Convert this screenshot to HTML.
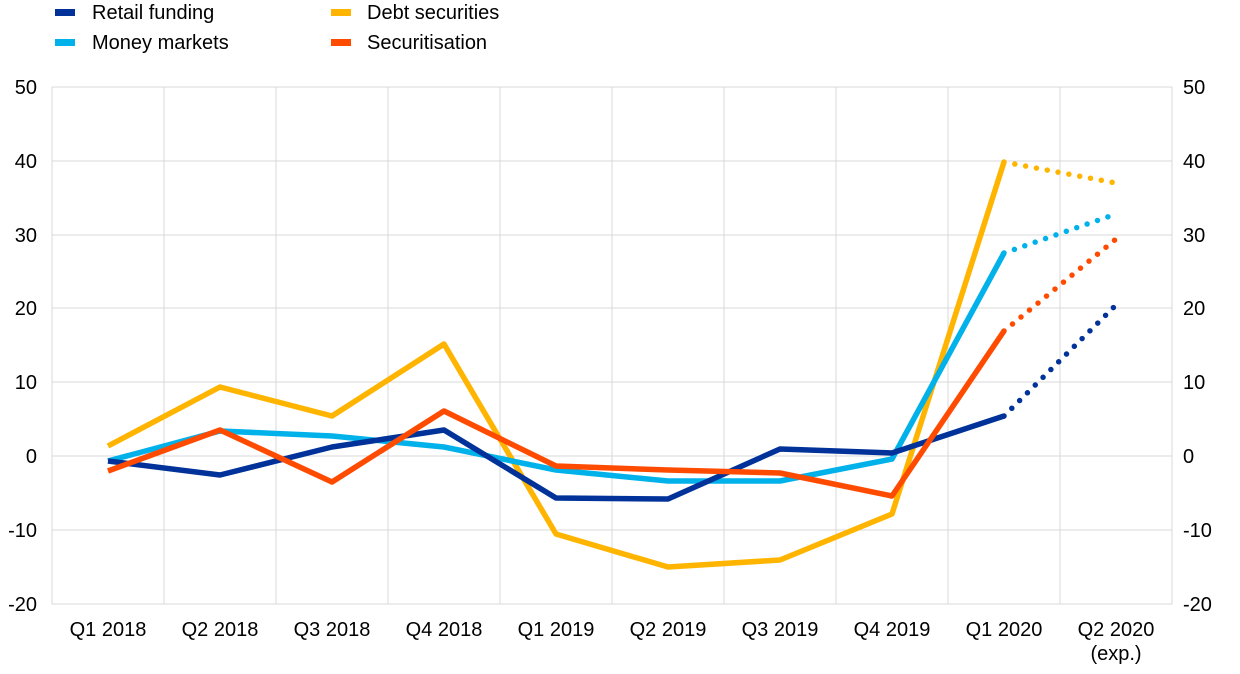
<!DOCTYPE html>
<html><head><meta charset="utf-8"><style>
body{margin:0;background:#fff}
svg text{font-family:"Liberation Sans",Arial,sans-serif;font-size:20px;fill:#000}
</style></head><body>
<svg width="1240" height="669" viewBox="0 0 1240 669" xmlns="http://www.w3.org/2000/svg">
<g stroke="#d9d9d9" stroke-width="1">
<line x1="52" y1="87" x2="1172" y2="87"/><line x1="52" y1="161" x2="1172" y2="161"/>
<line x1="52" y1="235" x2="1172" y2="235"/><line x1="52" y1="308" x2="1172" y2="308"/>
<line x1="52" y1="382" x2="1172" y2="382"/><line x1="52" y1="456" x2="1172" y2="456"/>
<line x1="52" y1="530" x2="1172" y2="530"/><line x1="52" y1="604" x2="1172" y2="604"/>
<line x1="52" y1="87" x2="52" y2="604"/><line x1="164" y1="87" x2="164" y2="604"/>
<line x1="276" y1="87" x2="276" y2="604"/><line x1="388" y1="87" x2="388" y2="604"/>
<line x1="500" y1="87" x2="500" y2="604"/><line x1="612" y1="87" x2="612" y2="604"/>
<line x1="724" y1="87" x2="724" y2="604"/><line x1="836" y1="87" x2="836" y2="604"/>
<line x1="948" y1="87" x2="948" y2="604"/><line x1="1060" y1="87" x2="1060" y2="604"/>
<line x1="1172" y1="87" x2="1172" y2="604"/>
</g>
<g text-anchor="end">
<text x="37" y="94">50</text><text x="37" y="168">40</text><text x="37" y="242">30</text>
<text x="37" y="315">20</text><text x="37" y="389">10</text><text x="37" y="463">0</text>
<text x="37" y="537">-10</text><text x="37" y="611">-20</text>
</g>
<g>
<text x="1183" y="94">50</text><text x="1183" y="168">40</text><text x="1183" y="242">30</text>
<text x="1183" y="315">20</text><text x="1183" y="389">10</text><text x="1183" y="463">0</text>
<text x="1183" y="537">-10</text><text x="1183" y="611">-20</text>
</g>
<g text-anchor="middle">
<text x="108" y="636">Q1 2018</text><text x="220" y="636">Q2 2018</text><text x="332" y="636">Q3 2018</text>
<text x="444" y="636">Q4 2018</text><text x="556" y="636">Q1 2019</text><text x="668" y="636">Q2 2019</text>
<text x="780" y="636">Q3 2019</text><text x="892" y="636">Q4 2019</text><text x="1004" y="636">Q1 2020</text>
<text x="1116" y="636">Q2 2020</text><text x="1116" y="660">(exp.)</text>
</g>
<g fill="none" stroke-width="5.5" stroke-linejoin="round">
<polyline stroke="#ffb400" points="108,446 220,387 332,416 444,344 556,534 668,567 780,560 892,514 1004,162"/>
<polyline stroke="#00b1ea" points="108,461 220,431 332,436 444,447 556,470 668,481 780,481 892,459 1004,253"/>
<polyline stroke="#003299" points="108,461 220,475 332,447 444,430 556,498 668,499 780,449 892,453 1004,416"/>
<polyline stroke="#ff4b00" points="108,471 220,430 332,482 444,411 556,466 668,470 780,473 892,496 1004,331"/>
</g>
<g fill="none" stroke-width="5.5" stroke-linecap="round" stroke-dasharray="0 11">
<line stroke="#ffb400" x1="1004" y1="162" x2="1116" y2="183"/>
<line stroke="#00b1ea" x1="1004" y1="253" x2="1116" y2="214"/>
<line stroke="#ff4b00" x1="1004" y1="331" x2="1116" y2="239"/>
<line stroke="#003299" x1="1004" y1="416" x2="1116" y2="305"/>
</g>
<rect x="55" y="9" width="20" height="7" fill="#003299"/><text x="92" y="19">Retail funding</text>
<rect x="55" y="39" width="20" height="7" fill="#00b1ea"/><text x="92" y="49">Money markets</text>
<rect x="331" y="9" width="20" height="7" fill="#ffb400"/><text x="367" y="19">Debt securities</text>
<rect x="331" y="39" width="20" height="7" fill="#ff4b00"/><text x="367" y="49">Securitisation</text>
</svg>
</body></html>
